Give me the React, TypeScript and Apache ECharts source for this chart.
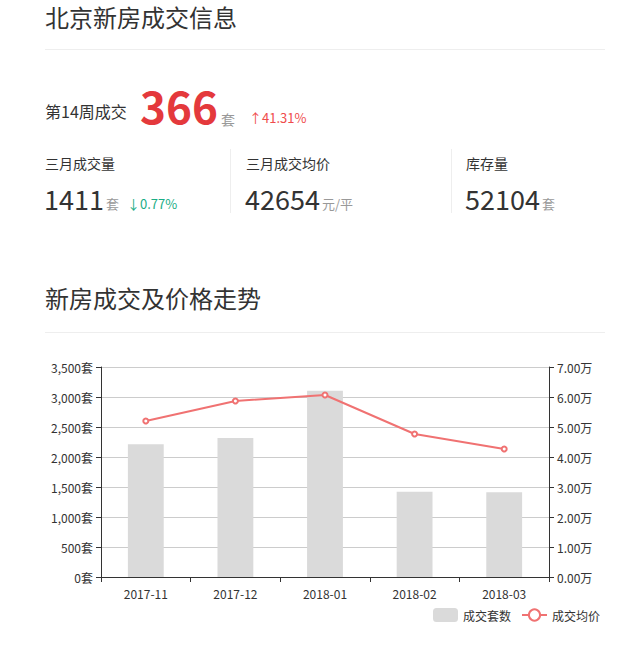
import React, { useEffect, useRef } from "react";
import * as echarts from "echarts";

const months = ["2017-11", "2017-12", "2018-01", "2018-02", "2018-03"];
const dealCounts = [2211, 2317, 3105, 1422, 1411];
const avgPrices = [52000, 58670, 60670, 47670, 42654];
const countTicks = { min: 0, max: 3500, interval: 500 };
const priceTicks = { min: 0, max: 70000, interval: 10000 };
const seriesNames = ["成交套数", "成交均价"];

const FONT = '"Microsoft YaHei", "Noto Sans CJK SC", "Noto Sans", sans-serif';

function txt(text: string, x: number, y: number, size: number, fill: string, weight: string = "normal") {
  return {
    type: "text",
    x,
    y,
    silent: true,
    style: {
      text,
      fill,
      fontSize: size,
      fontFamily: FONT,
      fontWeight: weight,
      textAlign: "left",
      textVerticalAlign: "middle",
      align: "left",
      verticalAlign: "middle",
    },
  };
}

function hline(x1: number, x2: number, y: number) {
  return { type: "line", silent: true, shape: { x1, y1: y, x2, y2: y }, style: { stroke: "#eeeeee", lineWidth: 1 } };
}
function vline(x: number, y1: number, y2: number) {
  return { type: "line", silent: true, shape: { x1: x, y1, x2: x, y2 }, style: { stroke: "#eeeeee", lineWidth: 1 } };
}

export default function App() {
  const ref = useRef<HTMLDivElement>(null);
  useEffect(() => {
    if (!ref.current) return;
    const chart = echarts.init(ref.current, null, { renderer: "svg" });
    const fmtThousands = (v: number) => v.toString().replace(/\B(?=(\d{3})+(?!\d))/g, ",");
    chart.setOption({
      animation: false,
      textStyle: { fontFamily: FONT },
      graphic: [
        txt("北京新房成交信息", 45, 16, 24, "#333"),
        hline(45, 605, 49.5),
        txt("第14周成交", 45, 110.5, 16, "#333"),
        txt("366", 140, 105, 44, "#e4393c", "bold"),
        txt("套", 221, 118.5, 14, "#999"),
        txt("↑41.31%", 249, 117, 13, "#ef4c4c"),
        txt("三月成交量", 45, 163, 14, "#333"),
        txt("1411", 44, 198.5, 27, "#333"),
        txt("套", 106, 203.5, 13, "#999"),
        txt("↓0.77%", 127, 203, 13, "#1aad86"),
        vline(230.5, 149, 213),
        txt("三月成交均价", 246, 163, 14, "#333"),
        txt("42654", 245, 198.5, 27, "#333"),
        txt("元/平", 322, 203.5, 13, "#999"),
        vline(451.5, 149, 213),
        txt("库存量", 466, 163, 14, "#333"),
        txt("52104", 465, 198.5, 27, "#333"),
        txt("套", 542, 203.5, 13, "#999"),
        txt("新房成交及价格走势", 45, 297, 24, "#333"),
        hline(45, 605, 332.5),
      ],
      legend: {
        data: [
          { name: seriesNames[0], icon: "roundRect" },
          { name: seriesNames[1] },
        ],
        right: 12,
        bottom: 21,
        itemWidth: 25,
        itemHeight: 14,
        itemGap: 10,
        textStyle: { color: "#333", fontSize: 12, fontFamily: FONT },
      },
      grid: { left: 101, right: 68, top: 367, bottom: 71, containLabel: false, outerBoundsMode: "none" },
      xAxis: {
        type: "category",
        data: months,
        boundaryGap: true,
        axisLine: { show: true, lineStyle: { color: "#333", width: 1 } },
        axisTick: { show: true, alignWithLabel: false, length: 5, lineStyle: { color: "#333" } },
        axisLabel: { color: "#333", fontSize: 12, margin: 10, fontFamily: FONT },
        splitLine: { show: false },
      },
      yAxis: [
        {
          type: "value",
          position: "left",
          min: countTicks.min,
          max: countTicks.max,
          interval: countTicks.interval,
          axisLine: { show: true, lineStyle: { color: "#333", width: 1 } },
          axisTick: { show: true, length: 5, lineStyle: { color: "#333" } },
          axisLabel: { color: "#333", fontSize: 12, margin: 8, fontFamily: FONT, formatter: (v: number) => fmtThousands(v) + "套" },
          splitLine: { show: true, lineStyle: { color: "#cccccc", width: 1 } },
        },
        {
          type: "value",
          position: "right",
          min: priceTicks.min,
          max: priceTicks.max,
          interval: priceTicks.interval,
          axisLine: { show: true, lineStyle: { color: "#333", width: 1 } },
          axisTick: { show: true, length: 5, lineStyle: { color: "#333" } },
          axisLabel: { color: "#333", fontSize: 12, margin: 8, fontFamily: FONT, formatter: (v: number) => (v / 10000).toFixed(2) + "万" },
          splitLine: { show: false },
        },
      ],
      series: [
        {
          name: seriesNames[0],
          type: "bar",
          yAxisIndex: 0,
          data: dealCounts,
          barWidth: "40%",
          itemStyle: { color: "#dadada" },
        },
        {
          name: seriesNames[1],
          type: "line",
          yAxisIndex: 1,
          data: avgPrices,
          symbol: "emptyCircle",
          symbolSize: 5,
          lineStyle: { color: "#f07272", width: 2 },
          itemStyle: { color: "#f07272", borderWidth: 1 },
        },
      ],
    });
    return () => chart.dispose();
  }, []);
  return (
    <div style={{ position: "absolute", left: 0, top: 0, width: 617, height: 648, background: "#fff" }}>
      <div ref={ref} style={{ width: 617, height: 648 }} />
    </div>
  );
}
